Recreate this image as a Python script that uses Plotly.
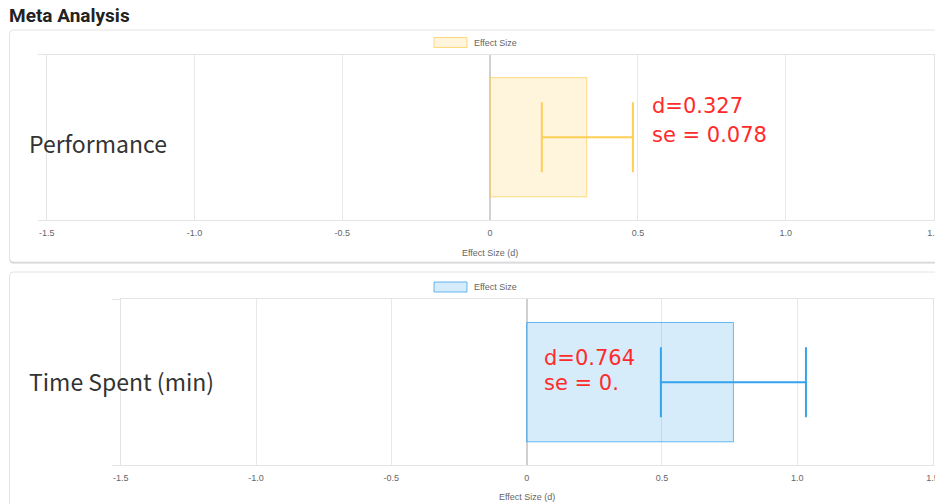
import plotly.graph_objects as go

# ---------------- data ----------------
outcomes = ["Performance", "Time Spent (min)"]
effect_d = [0.327, 0.764]
ci_lower = [0.175, 0.496]
ci_upper = [0.483, 1.032]
d_labels = ["d=0.327", "d=0.764"]
se_labels = ["se = 0.078", "se = 0."]
tick_vals = [-1.5, -1.0, -0.5, 0, 0.5, 1.0, 1.5]
tick_text = ["-1.5", "-1.0", "-0.5", "0", "0.5", "1.0", "1.5"]
legend_name = "Effect Size"
axis_title = "Effect Size (d)"
page_title = "Meta Analysis"

fill_colors = ["rgba(255,206,86,0.2)", "rgba(54,162,235,0.2)"]
line_colors = ["rgba(255,206,86,0.75)", "rgba(54,162,235,0.75)"]
err_colors = ["rgba(255,206,86,1)", "rgba(54,162,235,1)"]

W, H = 935, 504


def px(x):
    return x / W


def py(y):
    return 1 - y / H


# panel geometry in pixels
panels = [
    dict(x0=46.7, x1=933.5, y0=54.5, y1=220.0, leg_y=42.5, title_y=253,
         ann_x=650, d_y=106, se_y=135, lab_y=142.5),
    dict(x0=120.7, x1=932.6, y0=299.3, y1=465.0, leg_y=287, title_y=497,
         ann_x=542, d_y=357.5, se_y=383, lab_y=381),
]

fig = go.Figure()
annotations = []
shapes = []


def rrect(x0, y0, x1, y1, r):
    rx, ry = r / W, r / H
    X0, X1 = px(x0), px(x1)
    Y0, Y1 = py(y0), py(y1)
    return (f"M {X0+rx},{Y0} L {X1-rx},{Y0} Q {X1},{Y0} {X1},{Y0-ry} "
            f"L {X1},{Y1+ry} Q {X1},{Y1} {X1-rx},{Y1} L {X0+rx},{Y1} "
            f"Q {X0},{Y1} {X0},{Y1+ry} L {X0},{Y0-ry} Q {X0},{Y0} {X0+rx},{Y0} Z")


# cards (shadow + body)
for (cx0, cy0, cx1, cy1) in [(9.5, 30, 960, 262), (9.5, 272, 960, 530)]:
    shapes.append(dict(type="path", xref="paper", yref="paper", layer="below",
                        path=rrect(cx0, cy0 + 1.5, cx1, cy1 + 1.5, 4),
                        fillcolor="rgba(0,0,0,0.18)", line=dict(width=0)))
    shapes.append(dict(type="path", xref="paper", yref="paper", layer="below",
                        path=rrect(cx0, cy0, cx1, cy1, 4),
                        fillcolor="white", line=dict(color="#e4e4e4", width=1)))

for i, p in enumerate(panels):
    xa = "x" if i == 0 else f"x{i+1}"
    ya = "y" if i == 0 else f"y{i+1}"
    fig.add_trace(go.Bar(
        x=[effect_d[i]], y=[0], orientation="h", width=0.72,
        name=legend_name, showlegend=False,
        marker=dict(color=fill_colors[i], line=dict(color=line_colors[i], width=1)),
        error_x=dict(type="data", symmetric=False,
                     array=[ci_upper[i] - effect_d[i]],
                     arrayminus=[effect_d[i] - ci_lower[i]],
                     color=err_colors[i], thickness=2, width=35),
        xaxis=xa, yaxis=ya, hoverinfo="skip",
    ))
    xkey = "xaxis" if i == 0 else f"xaxis{i+1}"
    ykey = "yaxis" if i == 0 else f"yaxis{i+1}"
    fig.layout[xkey] = dict(
        domain=[px(p["x0"]), px(p["x1"])], range=[-1.5, 1.5], anchor=ya,
        tickvals=tick_vals, ticktext=tick_text, ticks="",
        tickfont=dict(family="Liberation Sans, Arial", size=9, color="#666666"),
        showgrid=True, gridcolor="#e8e8e8", gridwidth=1,
        zeroline=True, zerolinecolor="#d0d0d0", zerolinewidth=2,
        showline=True, mirror=True, linecolor="#e4e4e4", linewidth=1,
        ticklabelstandoff=4, ticklabeloverflow="allow",
        fixedrange=True, automargin=False,
    )
    fig.layout[ykey] = dict(
        domain=[py(p["y1"]), py(p["y0"])], range=[-0.5, 0.5], anchor=xa,
        tickvals=[-0.5, 0.5], showticklabels=False, ticks="outside",
        ticklen=8, tickcolor="#e4e4e4", tickwidth=1,
        showgrid=False, zeroline=False,
        showline=True, mirror=True, linecolor="#e4e4e4", linewidth=1,
        fixedrange=True, automargin=False,
    )
    # legend box + text
    shapes.append(dict(type="rect", xref="paper", yref="paper",
                       x0=px(434), x1=px(467), y0=py(p["leg_y"] + 5), y1=py(p["leg_y"] - 5),
                       fillcolor=fill_colors[i], line=dict(color=line_colors[i], width=1)))
    annotations.append(dict(text=legend_name, xref="paper", yref="paper",
                            x=px(472), y=py(p["leg_y"]), xanchor="left", yanchor="middle",
                            showarrow=False,
                            font=dict(family="Liberation Sans, Arial", size=9, color="#666666")))
    # axis title
    annotations.append(dict(text=axis_title, xref="paper", yref="paper",
                            x=px((p["x0"] + p["x1"]) / 2), y=py(p["title_y"]),
                            xanchor="center", yanchor="middle", showarrow=False,
                            font=dict(family="Liberation Sans, Arial", size=9, color="#666666")))
    # outcome label
    annotations.append(dict(text=outcomes[i], xref="paper", yref="paper",
                            x=px(27), y=py(p["lab_y"]), xanchor="left", yanchor="middle",
                            showarrow=False,
                            font=dict(family="Noto Sans CJK JP, Noto Sans", size=23, color="#333333")))
    # red stats text
    annotations.append(dict(text=d_labels[i], xref="paper", yref="paper",
                            x=px(p["ann_x"]), y=py(p["d_y"]), xanchor="left", yanchor="middle",
                            showarrow=False,
                            font=dict(family="DejaVu Sans", size=21, color="#ff2b2b")))
    annotations.append(dict(text=se_labels[i], xref="paper", yref="paper",
                            x=px(p["ann_x"]), y=py(p["se_y"]), xanchor="left", yanchor="middle",
                            showarrow=False,
                            font=dict(family="DejaVu Sans", size=21, color="#ff2b2b")))

annotations.append(dict(text=f"<b>{page_title}</b>", xref="paper", yref="paper",
                        x=px(7), y=py(15.5), xanchor="left", yanchor="middle", showarrow=False,
                        font=dict(family="Roboto, Liberation Sans", size=19, color="#222222")))

fig.update_layout(
    width=W, height=H, margin=dict(l=0, r=0, t=0, b=0, autoexpand=False),
    paper_bgcolor="white", plot_bgcolor="rgba(0,0,0,0)",
    showlegend=False, annotations=annotations, shapes=shapes,
    barmode="overlay",
)

fig.write_html("out.html", config={"displayModeBar": False},
               post_script="document.body.style.margin='0';document.body.style.overflow='hidden';")
